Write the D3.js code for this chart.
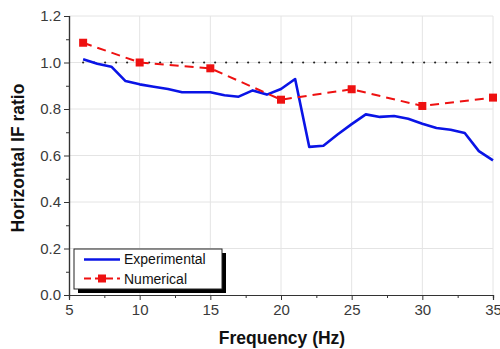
<!DOCTYPE html>
<html>
<head>
<meta charset="utf-8">
<script src="https://cdn.jsdelivr.net/npm/d3@7/dist/d3.min.js"></script>
<style>
  html, body { margin: 0; padding: 0; background: #fff; }
  svg { display: block; font-family: "Liberation Sans", Arial, sans-serif; }
</style>
</head>
<body>
<svg id="chart" width="500" height="349"></svg>
<script>
// Measured horizontal IF ratio vs. frequency
const expFreq = [6, 7, 8, 9, 10, 11, 12, 13, 14, 15, 16, 17, 18, 19, 20, 21, 22, 23, 24, 25, 26, 27, 28, 29, 30, 31, 32, 33, 34, 35];
const expRatio = [1.014, 0.995, 0.982, 0.920, 0.906, 0.896, 0.886, 0.872, 0.872, 0.872, 0.859, 0.853, 0.880, 0.862, 0.886, 0.929, 0.637, 0.642, 0.690, 0.735, 0.777, 0.766, 0.770, 0.758, 0.737, 0.718, 0.711, 0.697, 0.619, 0.579];
// Simulated values
const numFreq = [6, 10, 15, 20, 25, 30, 35];
const numRatio = [1.085, 1.0, 0.975, 0.840, 0.885, 0.813, 0.849];
// Reference level
const refFreq = [6, 35];
const refRatio = [1.0, 1.0];

const xTicks = [5, 10, 15, 20, 25, 30, 35];
const yTicks = [0.0, 0.2, 0.4, 0.6, 0.8, 1.0, 1.2];
const seriesNames = ["Experimental", "Numerical"];

const svg = d3.select("#chart");
const m = { left: 69, right: 493, top: 16, bottom: 295 };

const x = d3.scaleLinear().domain([5, 35]).range([m.left, m.right]);
const y = d3.scaleLinear().domain([0, 1.2]).range([m.bottom, m.top]);

// Gridlines
const grid = svg.append("g").attr("stroke", "#e4e4e4").attr("stroke-width", 1);
xTicks.filter(d => d > 5).forEach(d => {
  grid.append("line").attr("x1", x(d)).attr("x2", x(d)).attr("y1", m.top).attr("y2", m.bottom);
});
yTicks.filter(d => d > 0).forEach(d => {
  grid.append("line").attr("x1", m.left).attr("x2", m.right).attr("y1", y(d)).attr("y2", y(d));
});

// Axes
const axisColor = "#333";
const xAxis = svg.append("g").attr("transform", `translate(0,${m.bottom})`)
  .call(d3.axisBottom(x).tickValues(xTicks).tickFormat(d3.format("d")).tickSize(5).tickPadding(2));
const xMinor = svg.append("g").attr("transform", `translate(0,${m.bottom})`)
  .call(d3.axisBottom(x).tickValues(d3.range(7.5, 35, 5)).tickFormat("").tickSize(3));
const yAxis = svg.append("g").attr("transform", `translate(${m.left},0)`)
  .call(d3.axisLeft(y).tickValues(yTicks).tickFormat(d3.format(".1f")).tickSize(5).tickPadding(3));
const yMinor = svg.append("g").attr("transform", `translate(${m.left},0)`)
  .call(d3.axisLeft(y).tickValues(d3.range(0.1, 1.2, 0.2)).tickFormat("").tickSize(3));

[xAxis, xMinor, yAxis, yMinor].forEach(g => {
  g.select(".domain").attr("stroke", axisColor).attr("stroke-width", 1.2);
  g.selectAll(".tick line").attr("stroke", axisColor).attr("stroke-width", 1);
  g.selectAll(".tick text").attr("fill", "#3a3a3a").style("font-size", "15px")
    .style("font-family", "'Liberation Sans', Arial, sans-serif");
});
xAxis.selectAll(".tick text").attr("dy", "0.85em");

// Axis titles
svg.append("text").attr("x", 282).attr("y", 344)
  .attr("text-anchor", "middle").attr("font-weight", "bold").attr("font-size", "17.5px")
  .attr("fill", "#111").text("Frequency (Hz)");
svg.append("text").attr("transform", `translate(24,158) rotate(-90)`)
  .attr("text-anchor", "middle").attr("font-weight", "bold").attr("font-size", "17.5px")
  .attr("fill", "#111").text("Horizontal IF ratio");

const line = d3.line().x(d => x(d[0])).y(d => y(d[1]));

// Dotted reference line at 1.0
svg.append("path").datum(refFreq.map((f, i) => [f, refRatio[i]]))
  .attr("d", line).attr("fill", "none").attr("stroke", "#222")
  .attr("stroke-width", 2.2).attr("stroke-linecap", "round").attr("stroke-dasharray", "0 11");

// Experimental
const blue = "#0a14e6";
svg.append("path").datum(expFreq.map((f, i) => [f, expRatio[i]]))
  .attr("d", line).attr("fill", "none").attr("stroke", blue)
  .attr("stroke-width", 2.6).attr("stroke-linejoin", "round");

// Numerical
const red = "#ee1111";
svg.append("path").datum(numFreq.map((f, i) => [f, numRatio[i]]))
  .attr("d", line).attr("fill", "none").attr("stroke", red)
  .attr("stroke-width", 2).attr("stroke-dasharray", "9 6");
svg.append("g").selectAll("rect").data(numFreq.map((f, i) => [f, numRatio[i]])).join("rect")
  .attr("x", d => x(d[0]) - 4).attr("y", d => y(d[1]) - 4)
  .attr("width", 8).attr("height", 8).attr("fill", red);

// Legend
const lg = svg.append("g").attr("transform", "translate(74,249)");
const lw = 148, lh = 40;
lg.append("rect").attr("x", 4).attr("y", 4).attr("width", lw).attr("height", lh).attr("fill", "#000");
lg.append("rect").attr("x", 0).attr("y", 0).attr("width", lw).attr("height", lh)
  .attr("fill", "#fff").attr("stroke", "#222").attr("stroke-width", 1);
lg.append("line").attr("x1", 10).attr("x2", 46).attr("y1", 10.5).attr("y2", 10.5)
  .attr("stroke", blue).attr("stroke-width", 2.6);
lg.append("line").attr("x1", 10).attr("x2", 46).attr("y1", 29.5).attr("y2", 29.5)
  .attr("stroke", red).attr("stroke-width", 2).attr("stroke-dasharray", "7 4");
lg.append("rect").attr("x", 24).attr("y", 25.5).attr("width", 8).attr("height", 8).attr("fill", red);
lg.selectAll("text.lab").data(seriesNames).join("text").attr("class", "lab")
  .attr("x", 50).attr("y", (d, i) => 15 + i * 19.5)
  .attr("font-size", "14px").attr("fill", "#111").text(d => d);
</script>
</body>
</html>
